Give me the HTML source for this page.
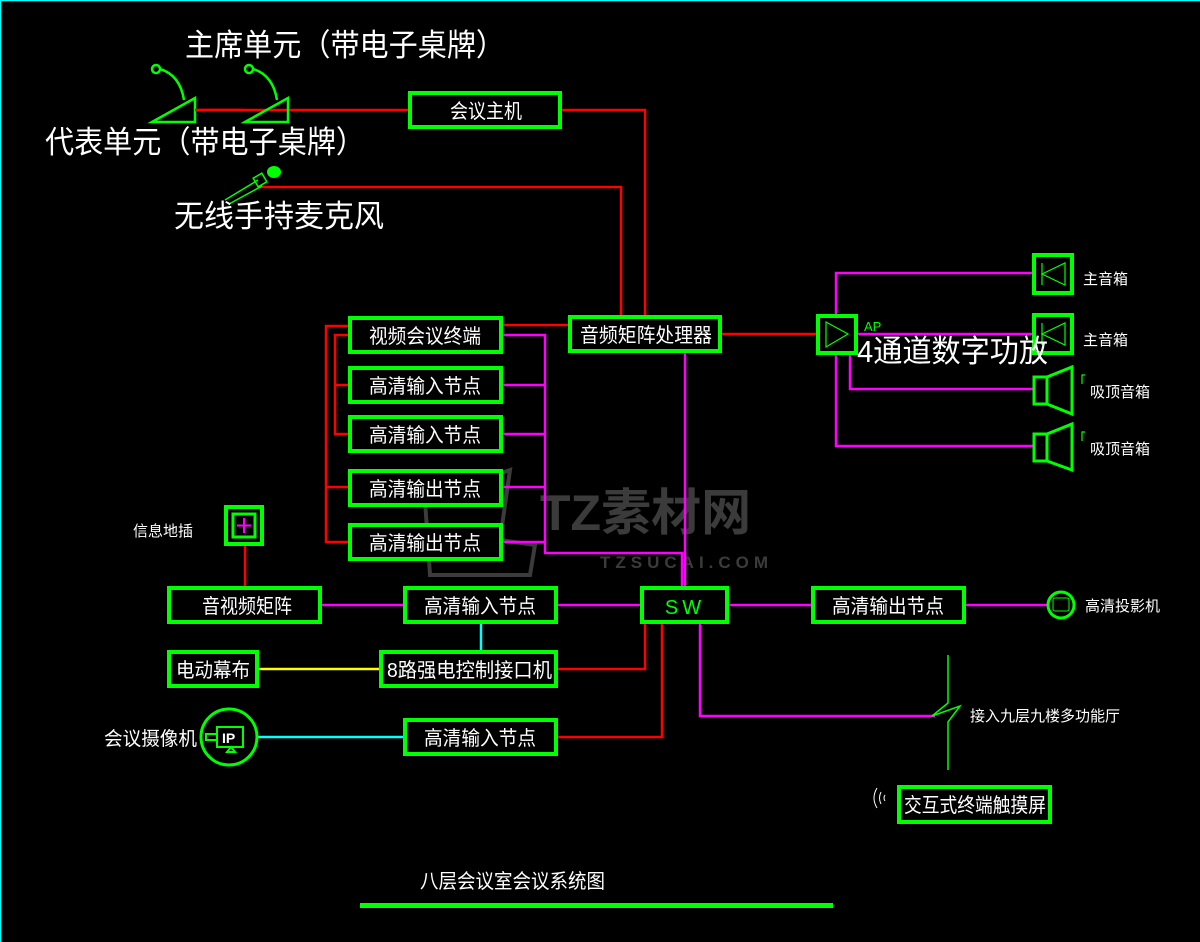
<!DOCTYPE html>
<html><head><meta charset="utf-8"><style>
html,body{margin:0;padding:0;background:#000;}
svg{display:block;}
text{font-family:"Liberation Sans","Noto Sans CJK SC",sans-serif;fill:#fff;}
</style></head><body>
<svg width="1200" height="942" viewBox="0 0 1200 942" xmlns="http://www.w3.org/2000/svg">
<rect x="0" y="0" width="1200" height="942" fill="#000"/>
<line x1="0.5" y1="0" x2="0.5" y2="942" stroke="#00ffff" stroke-width="1.5"/>
<line x1="0" y1="0.5" x2="1200" y2="0.5" stroke="#00ffff" stroke-width="1.5"/>

<!-- watermark -->
<g opacity="0.5">
<text x="540" y="530" font-size="50" font-weight="bold" style="fill:#777">TZ素材网</text>
<text x="600" y="568" font-size="17" font-weight="bold" letter-spacing="5" style="fill:#777">TZSUCAI.COM</text>
<path d="M425,500 L510,470 L500,540 L535,545 L530,575 L430,575 Z" fill="none" stroke="#777" stroke-width="4"/>
</g>

<g fill="none" stroke-width="2.5">
<g stroke="#ff0000">
<polyline points="195,110 410,110"/>
<polyline points="560,110 645,110 645,316"/>
<polyline points="258,187 621,187 621,316"/>
<polyline points="501,325 570,325"/>
<polyline points="720,334 818,334"/>
<polyline points="350,326 326,326 326,542 350,542"/>
<polyline points="326,487 350,487"/>
<polyline points="350,335 335,335 335,434 350,434"/>
<polyline points="335,385 350,385"/>
<polyline points="245,545 245,587"/>
<polyline points="556,669 645,669 645,622"/>
<polyline points="556,737 662,737 662,622"/>
</g>
<g stroke="#ff00ff">
<polyline points="501,335 545,335 545,553 682,553 682,587"/>
<polyline points="501,385 545,385"/>
<polyline points="501,434 545,434"/>
<polyline points="501,487 545,487"/>
<polyline points="501,542 545,542"/>
<polyline points="685,351 685,587"/>
<polyline points="320,605 405,605"/>
<polyline points="556,605 642,605"/>
<polyline points="727,605 813,605"/>
<polyline points="964,605 1050,605"/>
<polyline points="700,622 700,716 935,716"/>
<polyline points="836,315 836,273 1033,273"/>
<polyline points="856,334 1033,334"/>
<polyline points="850,353 850,389 1033,389"/>
<polyline points="836,353 836,446 1033,446"/>
</g>
<line x1="481" y1="622" x2="481" y2="651" stroke="#00ffff"/>
<line x1="258" y1="737" x2="405" y2="737" stroke="#00ffff"/>
<line x1="257" y1="669" x2="381" y2="669" stroke="#ffff00"/>
</g>

<polyline points="948,655 948,703 932,716 960,706 948,722 948,770" fill="none" stroke="#00ff00" stroke-width="1.5"/>

<g fill="#000" stroke="#00ff00" stroke-width="4">
<rect x="410" y="93" width="150" height="34"/>
<rect x="570" y="317" width="150" height="34"/>
<rect x="350" y="318" width="151" height="34"/>
<rect x="350" y="368" width="151" height="34"/>
<rect x="350" y="417" width="151" height="34"/>
<rect x="350" y="471" width="151" height="34"/>
<rect x="350" y="525" width="151" height="34"/>
<rect x="169" y="588" width="151" height="34"/>
<rect x="405" y="588" width="151" height="34"/>
<rect x="642" y="588" width="85" height="34"/>
<rect x="813" y="588" width="151" height="34"/>
<rect x="169" y="652" width="88" height="34"/>
<rect x="381" y="652" width="175" height="34"/>
<rect x="405" y="720" width="151" height="34"/>
<rect x="899" y="787" width="151" height="35"/>
<rect x="226" y="507" width="36" height="37"/>
<rect x="818" y="316" width="38" height="37"/>
<rect x="1034" y="255" width="38" height="38"/>
<rect x="1034" y="315" width="38" height="38"/>
</g>
<rect x="233" y="514" width="22" height="23" fill="none" stroke="#00ff00" stroke-width="3"/>
<path d="M244,518 V533 M237,525.5 H251" stroke="#ff00ff" stroke-width="2"/>
<polygon points="826,322 826,347 848,334" fill="none" stroke="#00ff00" stroke-width="1.2"/>
<text x="864" y="331" font-size="13" style="fill:#00ff00">AP</text>
<g fill="none" stroke="#00ff00" stroke-width="1.2">
<polygon points="1042,274 1065,263 1065,285"/><line x1="1042" y1="263" x2="1042" y2="285"/>
<polygon points="1042,334 1065,323 1065,345"/><line x1="1042" y1="323" x2="1042" y2="345"/>
</g>
<g fill="none" stroke="#00ff00" stroke-width="3">
<rect x="1034" y="377" width="13" height="27"/><polyline points="1047,377 1072,367 1072,414 1047,404"/>
<rect x="1034" y="434" width="13" height="27"/><polyline points="1047,434 1072,424 1072,470 1047,461"/>
</g>
<g fill="none" stroke="#00ff00" stroke-width="1.2">
<path d="M1082,384 v-9 h3"/><path d="M1082,441 v-9 h3"/>
</g>
<circle cx="1061" cy="605" r="13" fill="#000" stroke="#00ff00" stroke-width="3"/>
<rect x="1053" y="598" width="16" height="13" rx="2" fill="none" stroke="#00ff00" stroke-width="1"/>
<circle cx="229" cy="737" r="28" fill="#000" stroke="#00ff00" stroke-width="3"/>
<rect x="217" y="727" width="26" height="20" fill="none" stroke="#00ff00" stroke-width="2"/>
<path d="M206,734 h11 v6 h-11 z M227,752 l4,-5 l4,5 z" fill="none" stroke="#00ff00" stroke-width="2"/>
<text x="222" y="743" font-size="14" font-weight="bold" font-family="Liberation Serif">IP</text>
<path d="M877,808 q-6,-10 0,-20 M881,804 q-3,-6 0,-12 M885,801 q-2,-3 0,-6" fill="none" stroke="#fff" stroke-width="1"/>

<g fill="none" stroke="#00ff00" stroke-width="2.5">
<polygon points="152,122 195,98 195,122"/>
<polygon points="245,122 288,98 288,122"/>
<circle cx="156" cy="69" r="4"/><path d="M160,69 Q180,75 184,100"/>
<circle cx="249" cy="69" r="4"/><path d="M253,69 Q273,75 277,100"/>
</g>
<line x1="195" y1="110" x2="245" y2="110" stroke="#ff0000" stroke-width="2.5"/>
<g stroke="#00ff00" fill="none" stroke-width="1.5">
<line x1="225" y1="200" x2="258" y2="180"/><line x1="229" y1="204" x2="262" y2="186"/>
<rect x="255" y="175" width="10" height="10" transform="rotate(-30 260 180)"/>
</g>
<ellipse cx="274" cy="172" rx="7" ry="6" fill="#00ff00"/>

<g font-size="20">
<text x="369" y="343" textLength="112" lengthAdjust="spacingAndGlyphs">视频会议终端</text>
<text x="369" y="393" textLength="112" lengthAdjust="spacingAndGlyphs">高清输入节点</text>
<text x="369" y="442" textLength="112" lengthAdjust="spacingAndGlyphs">高清输入节点</text>
<text x="369" y="496" textLength="112" lengthAdjust="spacingAndGlyphs">高清输出节点</text>
<text x="369" y="550" textLength="112" lengthAdjust="spacingAndGlyphs">高清输出节点</text>
<text x="424" y="613" textLength="112" lengthAdjust="spacingAndGlyphs">高清输入节点</text>
<text x="424" y="745" textLength="112" lengthAdjust="spacingAndGlyphs">高清输入节点</text>
<text x="832" y="613" textLength="112" lengthAdjust="spacingAndGlyphs">高清输出节点</text>
<text x="450" y="118" textLength="72" lengthAdjust="spacingAndGlyphs">会议主机</text>
<text x="580" y="342" textLength="132" lengthAdjust="spacingAndGlyphs">音频矩阵处理器</text>
<text x="202" y="613" textLength="90" lengthAdjust="spacingAndGlyphs">音视频矩阵</text>
<text x="176" y="677" textLength="74" lengthAdjust="spacingAndGlyphs">电动幕布</text>
<text x="387" y="677" textLength="165" lengthAdjust="spacingAndGlyphs">8路强电控制接口机</text>
<text x="904" y="812" textLength="142" lengthAdjust="spacingAndGlyphs">交互式终端触摸屏</text>
<text x="685" y="614" style="fill:#00ff00" letter-spacing="4" text-anchor="middle">SW</text>
</g>
<g font-size="15">
<text x="1083" y="284">主音箱</text>
<text x="1083" y="345">主音箱</text>
<text x="1090" y="397">吸顶音箱</text>
<text x="1090" y="454">吸顶音箱</text>
<text x="1085" y="611">高清投影机</text>
<text x="970" y="721">接入九层九楼多功能厅</text>
<text x="133" y="536">信息地插</text>
</g>
<text x="104" y="745" font-size="19" textLength="93" lengthAdjust="spacingAndGlyphs">会议摄像机</text>
<text x="185" y="56" font-size="31" textLength="320" lengthAdjust="spacingAndGlyphs">主席单元（带电子桌牌）</text>
<text x="45" y="153" font-size="31" textLength="320" lengthAdjust="spacingAndGlyphs">代表单元（带电子桌牌）</text>
<text x="174" y="227" font-size="31" textLength="210" lengthAdjust="spacingAndGlyphs">无线手持麦克风</text>
<text x="857" y="362" font-size="31" textLength="191" lengthAdjust="spacingAndGlyphs">4通道数字功放</text>
<text x="420" y="888" font-size="20" textLength="185" lengthAdjust="spacingAndGlyphs">八层会议室会议系统图</text>
<rect x="360" y="903" width="473" height="5" fill="#00ff00"/>
</svg>
</body></html>
